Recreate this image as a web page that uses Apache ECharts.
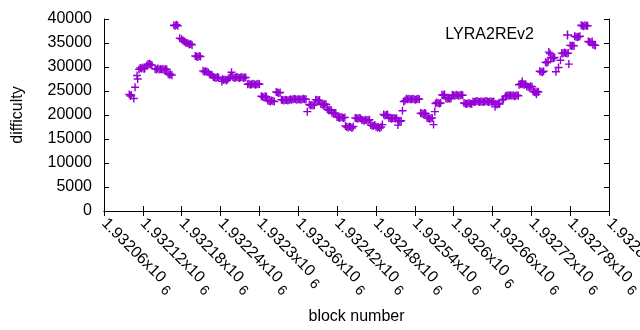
<!DOCTYPE html>
<html>
<head>
<meta charset="utf-8">
<script src="https://cdn.jsdelivr.net/npm/echarts@6/dist/echarts.min.js"></script>
<style>
html,body{margin:0;padding:0;background:#fff;}
#chart{width:640px;height:330px;}
</style>
</head>
<body>
<div id="chart"></div>
<script>
const seriesName = 'LYRA2REv2';
const xTitle = 'block number';
const yTitle = 'difficulty';
const xMin = 1932060, xMax = 1932840, xStep = 60;
const yMin = 0, yMax = 40000, yStep = 5000;

const blocks = [
1932099,1932101,1932102,1932106,1932108,1932111,1932112,
1932114,1932116,1932118,1932120,1932122,1932123,
1932126,1932128,1932130,1932132,1932134,
1932139,1932141,1932143,1932145,1932147,1932149,1932151,1932153,1932155,1932157,
1932159,1932161,1932163,1932165,
1932168,1932170,1932172,1932174,
1932177,
1932180,1932182,1932184,1932186,1932188,1932190,1932192,1932194,1932196,
1932201,1932203,1932205,1932207,1932209,
1932213,1932215,1932217,1932219,1932221,
1932223,1932225,1932227,
1932229,1932231,1932233,1932235,1932237,
1932242,1932243,1932245,1932247,1932249,1932251,
1932253,1932255,1932257,
1932259,1932261,1932263,1932265,1932267,1932269,1932271,1932273,1932275,1932277,1932279,
1932282,1932284,1932286,1932288,1932290,1932292,1932294,1932296,1932298,1932300,
1932303,1932305,1932307,1932309,1932311,
1932313,1932315,1932317,1932319,1932321,1932323,
1932326,1932328,1932330,1932332,
1932334,1932336,1932338,1932340,1932342,1932344,1932346,
1932348,1932350,1932352,1932354,1932356,1932358,1932360,1932362,1932364,1932366,1932368,1932370,1932372,
1932374,
1932377,1932379,1932381,1932383,1932385,
1932387,1932389,1932391,1932393,
1932395,1932397,1932399,1932401,1932403,
1932405,1932407,1932409,1932411,
1932412,1932414,1932416,1932418,
1932420,1932422,1932424,1932426,1932428,1932430,1932432,
1932433,1932435,1932437,1932439,1932441,1932443,1932445,
1932448,1932450,1932452,1932454,1932456,
1932458,1932460,1932462,1932464,1932466,1932468,1932470,
1932472,1932474,1932476,1932478,
1932480,1932482,1932484,1932486,1932488,
1932490,
1932492,1932494,1932496,1932498,
1932500,1932502,1932504,1932506,1932508,1932510,1932512,
1932514,1932515,1932517,1932519,
1932521,
1932523,1932525,
1932527,1932529,1932531,1932533,1932535,1932537,1932539,1932541,1932543,1932545,1932547,
1932549,1932551,1932553,1932555,1932557,
1932559,1932561,1932563,1932565,1932567,
1932569,1932571,
1932572,1932574,1932576,1932578,1932580,
1932582,1932584,1932586,
1932588,1932590,1932592,1932594,1932596,
1932598,1932600,1932602,1932604,1932606,1932608,1932610,1932612,1932614,
1932616,1932618,1932620,1932622,1932624,1932626,1932628,
1932630,1932632,1932634,1932636,1932638,1932640,1932642,1932644,1932646,1932648,1932650,1932652,1932654,1932656,1932658,1932660,1932662,
1932664,1932665,1932667,1932669,1932671,
1932675,1932677,
1932680,1932682,1932684,1932686,1932688,1932690,1932692,1932694,1932696,1932698,1932700,
1932701,1932703,1932705,1932706,1932707,1932709,1932711,
1932713,1932715,1932717,1932719,1932721,
1932723,1932725,1932727,1932728,1932729,1932731,
1932733,1932735,1932737,1932739,
1932742,1932744,1932746,
1932747,1932749,
1932750,1932752,1932754,1932756,
1932758,1932762,1932765,
1932767,1932769,1932771,1932773,1932775,1932777,
1932778,
1932780,1932782,1932784,1932786,
1932787,1932789,1932791,1932793,1932795,
1932797,1932799,1932801,1932803,1932805,1932807,
1932808,1932810,1932812,1932814,
1932815,1932817,1932819
];

const difficulty = [
24270,23960,24170,23440,25770,28230,27500,
29500,29800,29700,29900,29600,29800,
30300,30600,30700,30500,30400,
29600,29500,29700,29500,29600,29500,29600,29400,29600,29500,
28600,28400,28500,28300,
38700,38600,38800,38600,
36000,
35800,35500,35300,35100,35000,34900,34700,34800,34600,
32300,32200,32100,32300,32200,
29200,29000,29100,29000,28900,
28500,28400,28300,
27900,27800,27700,27900,27800,
27000,27500,27300,27400,27200,27400,
27700,27900,28900,
27900,27700,27800,27900,27800,27700,27800,27900,27700,27800,27800,
26400,26500,26300,26400,26500,26400,26300,26400,26500,26400,
23900,23800,23700,23900,23800,
23000,22900,22800,23000,22900,22800,
24800,24700,24600,24700,
23200,23100,23000,23200,23100,23000,23100,
23300,23200,23300,23400,23300,23200,23300,23300,23200,23300,23400,23300,23300,
20700,
22200,22000,22100,22000,22100,
23200,23100,23000,23100,
22300,22200,22100,22300,22200,
21200,21000,21100,21000,
20500,20300,20400,20400,
19600,19500,19400,19600,19500,19400,19500,
17700,17500,17400,17600,17500,17300,17600,
19400,19300,19200,19400,19300,
19000,18900,18800,19000,18900,18900,19000,
17900,17800,17700,17900,
17600,17400,17500,17300,17500,
18000,
20100,19900,20000,20100,
19400,19300,19200,19300,19400,19200,19300,
17900,18800,18700,18800,
20900,
22800,23000,
23400,23300,23400,23300,23300,23400,23300,23200,23300,23400,23300,
20400,20300,20200,20400,20300,
19400,19300,19200,19300,19400,
18000,20700,
22400,22600,22500,22400,22500,
24200,24100,24300,
23500,23400,23500,23400,23500,
24200,24100,24000,24200,24100,24000,24100,24200,24100,
22500,22400,22300,22500,22400,22400,22300,
22800,22700,22800,22900,22800,22700,22800,22800,22700,22800,22900,22800,22700,22800,22800,22700,22800,
21700,22300,22200,22400,22300,
23100,23300,
23900,24000,24100,24000,24100,24000,24100,23900,24000,24100,24000,
26300,26400,26500,27000,26400,26300,26400,
26000,25900,25800,26000,25900,
24900,24800,24700,24300,24900,24800,
29100,29000,28900,29100,
31000,30900,31100,
33100,32800,
32000,31900,31800,32000,
29000,29900,31400,
32900,32800,33000,32900,32800,32900,
30600,
34500,34400,34500,34400,
36400,36300,36200,36300,36400,
38700,38600,38500,38700,38600,38600,
35300,35200,35100,35300,
34700,34600,34500
];

const points = blocks.map((b, i) => [b, difficulty[i]]);

const FONT = 'Liberation Sans';
const CROSS = 'path://M3.3,0H4.7V3.3H8V4.7H4.7V8H3.3V4.7H0V3.3H3.3Z';
const PURPLE = '#9400D3';

function xLabel(v) {
  const s = String(+(v / 1e6).toFixed(5));
  return '{a|' + s + 'x10}{s|6}';
}

const chart = echarts.init(document.getElementById('chart'), null, {renderer: 'canvas'});
chart.setOption({
  animation: false,
  backgroundColor: '#ffffff',
  textStyle: {fontFamily: FONT},
  grid: {left: 104, right: 31, top: 19, bottom: 119, containLabel: false, outerBoundsMode: 'none'},
  legend: {
    data: [{name: seriesName, icon: CROSS}],
    right: 68, top: 27, padding: 0,
    align: 'right',
    itemWidth: 9, itemHeight: 9,
    formatter: '{t|{name}}',
    textStyle: {fontFamily: FONT, fontSize: 16, color: '#000',
      rich: {t: {fontFamily: FONT, fontSize: 16, color: '#000', padding: [0, 24, 0, 0]}}}
  },
  xAxis: [{
    type: 'value', min: xMin, max: xMax, interval: xStep,
    name: xTitle, nameLocation: 'middle', nameGap: 98,
    nameTextStyle: {fontFamily: FONT, fontSize: 16, color: '#000'},
    axisLine: {show: true, lineStyle: {color: '#000', width: 1}},
    axisTick: {show: true, inside: true, length: 5, lineStyle: {color: '#000'}},
    splitLine: {show: false},
    axisLabel: {
      show: true, rotate: -45, margin: 10, interval: 0,
      showMinLabel: true, showMaxLabel: true, hideOverlap: false,
      formatter: xLabel,
      rich: {
        a: {fontFamily: FONT, fontSize: 16, color: '#000', lineHeight: 16},
        s: {fontFamily: FONT, fontSize: 14, color: '#000', padding: [0, 0, 0, 5], lineHeight: 26, verticalAlign: 'bottom'}
      }
    }
  }, {
    type: 'value', position: 'top', min: xMin, max: xMax, interval: xStep,
    axisLine: {show: true, lineStyle: {color: '#000', width: 1}},
    axisTick: {show: true, inside: true, length: 5, lineStyle: {color: '#000'}},
    axisLabel: {show: false}, splitLine: {show: false}
  }],
  yAxis: [{
    type: 'value', min: yMin, max: yMax, interval: yStep,
    name: yTitle, nameLocation: 'middle', nameGap: 78, nameRotate: 90,
    nameTextStyle: {fontFamily: FONT, fontSize: 16, color: '#000'},
    axisLine: {show: true, lineStyle: {color: '#000', width: 1}},
    axisTick: {show: true, inside: true, length: 5, lineStyle: {color: '#000'}},
    splitLine: {show: false},
    axisLabel: {fontFamily: FONT, fontSize: 16, color: '#000', margin: 12, formatter: v => String(v)}
  }, {
    type: 'value', position: 'right', min: yMin, max: yMax, interval: yStep,
    axisLine: {show: true, lineStyle: {color: '#000', width: 1}},
    axisTick: {show: true, inside: true, length: 5, lineStyle: {color: '#000'}},
    axisLabel: {show: false}, splitLine: {show: false}
  }],
  series: [{
    name: seriesName,
    type: 'scatter',
    xAxisIndex: 0, yAxisIndex: 0,
    symbol: CROSS,
    symbolSize: 8,
    itemStyle: {color: PURPLE, opacity: 1},
    emphasis: {disabled: true},
    data: points
  }]
});
</script>
</body>
</html>
